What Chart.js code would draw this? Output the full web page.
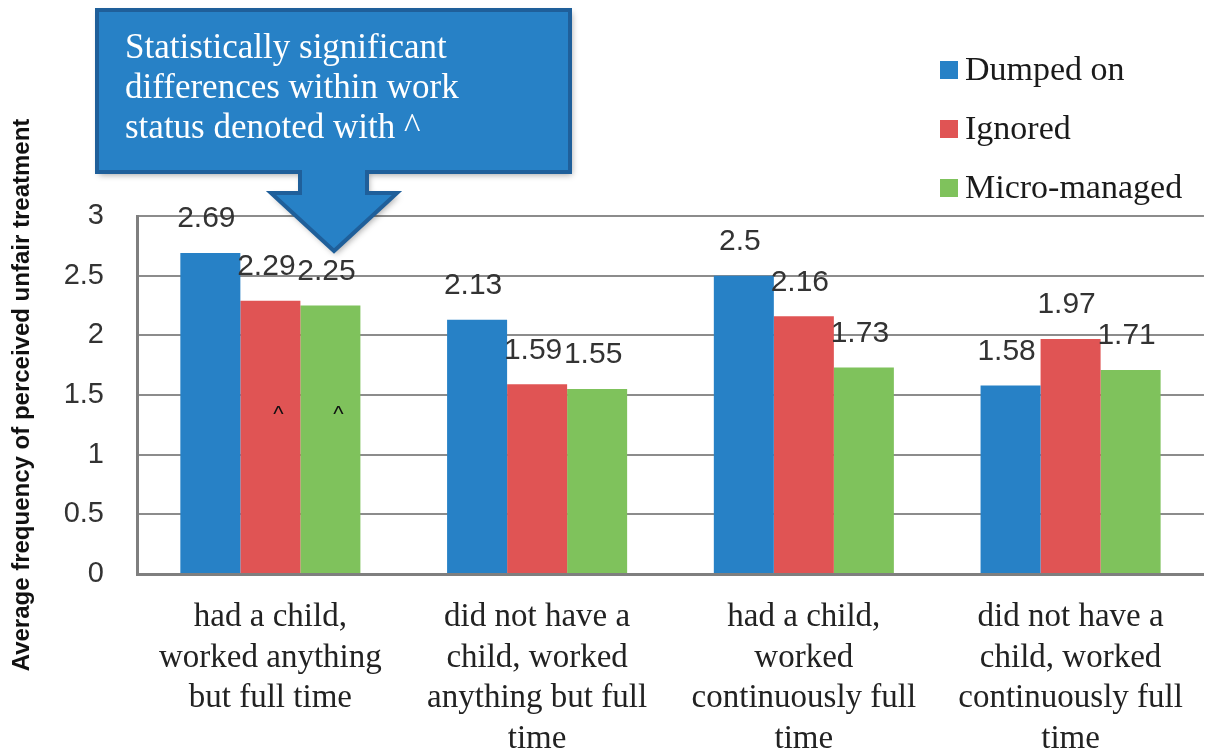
<!DOCTYPE html>
<html>
<head>
<meta charset="utf-8">
<script src="https://cdn.jsdelivr.net/npm/chart.js@4.4.1/dist/chart.umd.min.js"></script>
<style>
  html, body { margin: 0; padding: 0; background: #fff; }
  #wrap { width: 1206px; height: 753px; position: relative; }
</style>
</head>
<body>
<div id="wrap"><canvas id="chart" width="1206" height="753"></canvas></div>
<script>
const categories = [
  ["had a child,", "worked anything", "but full time"],
  ["did not have a", "child, worked", "anything but full", "time"],
  ["had a child,", "worked", "continuously full", "time"],
  ["did not have a", "child, worked", "continuously full", "time"]
];
const seriesNames = ["Dumped on", "Ignored", "Micro-managed"];
const dumpedOn = [2.69, 2.13, 2.5, 1.58];
const ignored = [2.29, 1.59, 2.16, 1.97];
const microManaged = [2.25, 1.55, 1.73, 1.71];
const yTicks = [0, 0.5, 1, 1.5, 2, 2.5, 3];
const calloutLines = ["Statistically significant", "differences within work", "status denoted with ^"];
// significance carets: [category index, dataset index]
const sigMarks = [[0, 1], [0, 2]];

const colors = ["#2781c6", "#e05454", "#7fc25c"];

// value labels sitting above each bar
const valueLabels = {
  id: "valueLabels",
  afterDatasetsDraw(chart) {
    const ctx = chart.ctx;
    ctx.save();
    ctx.font = "30px 'Liberation Sans', Arial, sans-serif";
    ctx.fillStyle = "#333";
    ctx.textAlign = "center";
    ctx.textBaseline = "middle";
    chart.data.datasets.forEach((ds, i) => {
      chart.getDatasetMeta(i).data.forEach((bar, j) => {
        ctx.fillText(String(ds.data[j]), bar.x - 4, bar.y - 34);
      });
    });
    // carets
    ctx.font = "22px 'Liberation Sans', Arial, sans-serif";
    ctx.fillStyle = "#111";
    const yScale = chart.scales.y;
    sigMarks.forEach(([c, d]) => {
      const bar = chart.getDatasetMeta(d).data[c];
      ctx.fillText("^", bar.x + 8, yScale.getPixelForValue(1.33));
    });
    ctx.restore();
  }
};

// legend and callout box drawn on top
const overlay = {
  id: "overlay",
  afterDraw(chart) {
    const ctx = chart.ctx;
    ctx.save();

    // legend
    ctx.font = "34px 'Liberation Serif', 'Times New Roman', serif";
    ctx.textBaseline = "middle";
    ctx.textAlign = "left";
    seriesNames.forEach((name, i) => {
      const cy = 70 + i * 59;
      ctx.fillStyle = colors[i];
      ctx.fillRect(940, cy - 9, 18, 18);
      ctx.fillStyle = "#1a1a1a";
      ctx.fillText(name, 965, cy + 1);
    });

    // callout with down arrow
    ctx.beginPath();
    ctx.moveTo(97, 10);
    ctx.lineTo(570, 10);
    ctx.lineTo(570, 172);
    ctx.lineTo(367, 172);
    ctx.lineTo(367, 193);
    ctx.lineTo(397, 193);
    ctx.lineTo(334, 251);
    ctx.lineTo(271, 193);
    ctx.lineTo(300, 193);
    ctx.lineTo(300, 172);
    ctx.lineTo(97, 172);
    ctx.closePath();
    ctx.shadowColor = "rgba(0,0,0,0.35)";
    ctx.shadowBlur = 6;
    ctx.shadowOffsetX = 2;
    ctx.shadowOffsetY = 3;
    ctx.fillStyle = "#2781c6";
    ctx.fill();
    ctx.shadowColor = "transparent";
    ctx.lineWidth = 4;
    ctx.lineJoin = "miter";
    ctx.strokeStyle = "#1f5f9a";
    ctx.stroke();

    ctx.fillStyle = "#fff";
    ctx.font = "35px 'Liberation Serif', 'Times New Roman', serif";
    calloutLines.forEach((line, i) => {
      ctx.fillText(line, 125, 49 + i * 40);
    });
    ctx.restore();
  }
};

new Chart(document.getElementById("chart"), {
  type: "bar",
  data: {
    labels: categories,
    datasets: seriesNames.map((name, i) => ({
      label: name,
      data: [dumpedOn, ignored, microManaged][i],
      backgroundColor: colors[i],
      borderWidth: 0,
      categoryPercentage: 0.675,
      barPercentage: 1
    }))
  },
  options: {
    responsive: false,
    animation: false,
    layout: { padding: { top: 216, right: 1, left: 0, bottom: 0 } },
    plugins: {
      legend: { display: false },
      tooltip: { enabled: false }
    },
    scales: {
      x: {
        grid: { display: false, drawTicks: false },
        border: { display: true, color: "#7f7f7f", width: 3 },
        ticks: {
          color: "#222",
          padding: 23,
          maxRotation: 0,
          autoSkip: false,
          font: { family: "'Liberation Serif', 'Times New Roman', serif", size: 33, lineHeight: 1.23 }
        },
        afterFit(scale) { scale.height = 179; }
      },
      y: {
        min: 0,
        max: 3,
        afterBuildTicks(scale) { scale.ticks = yTicks.map(v => ({ value: v })); },
        grid: { color: "#8c8c8c", lineWidth: 2, drawTicks: false },
        border: { display: true, color: "#7f7f7f", width: 3 },
        ticks: {
          color: "#333",
          padding: 33,
          font: { family: "'Liberation Sans', Arial, sans-serif", size: 29 },
          callback: v => String(v)
        },
        title: {
          display: true,
          text: "Average frequency of perceived unfair treatment",
          color: "#111",
          padding: { top: 8, bottom: 0 },
          font: { family: "'Liberation Sans', Arial, sans-serif", size: 24, weight: "bold" }
        },
        afterFit(scale) { scale.width = 137; }
      }
    }
  },
  plugins: [valueLabels, overlay]
});
</script>
</body>
</html>
